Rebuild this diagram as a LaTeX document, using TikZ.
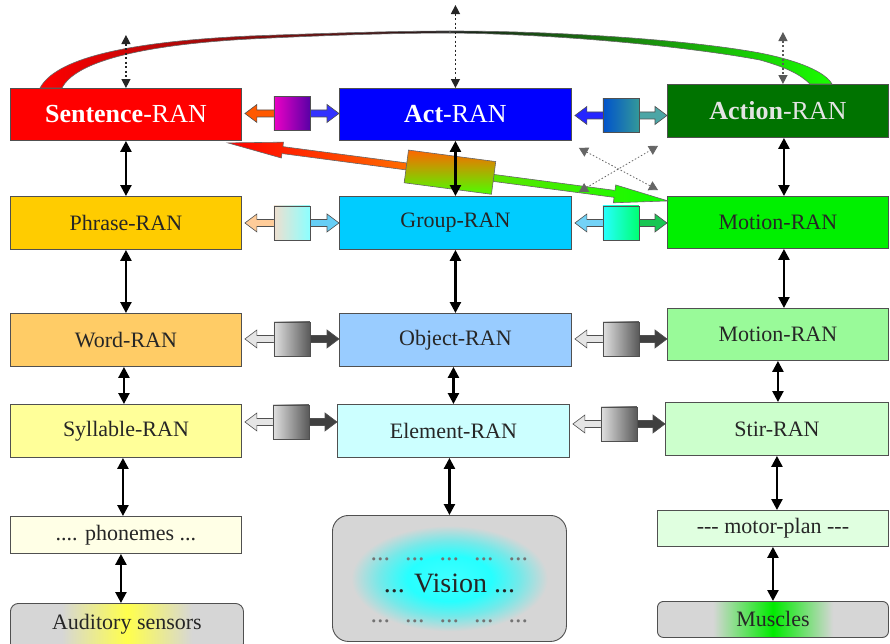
\documentclass[tikz,border=0pt]{standalone}
\usepackage{fontspec}
\setmainfont{Liberation Serif}
\usetikzlibrary{arrows.meta,calc}
\definecolor{cSent}{HTML}{FF0000}
\definecolor{cAct}{HTML}{0000FF}
\definecolor{cAction}{HTML}{007300}
\definecolor{cPhrase}{HTML}{FFCC00}
\definecolor{cGroup}{HTML}{00CCFF}
\definecolor{cMotion}{HTML}{00F000}
\definecolor{cWord}{HTML}{FFCC66}
\definecolor{cObject}{HTML}{99CCFF}
\definecolor{cMotionB}{HTML}{99FA99}
\definecolor{cSyll}{HTML}{FFFF99}
\definecolor{cElem}{HTML}{CCFFFF}
\definecolor{cStir}{HTML}{CCFFCC}
\definecolor{cPhon}{HTML}{FFFFE6}
\definecolor{cMotor}{HTML}{E0FFE0}
\definecolor{cGray}{HTML}{D6D6D6}
\definecolor{cEdge}{HTML}{505050}
\definecolor{cActText}{HTML}{E4E4E4}
\pgfdeclareradialshading{visionglow}{\pgfpoint{0bp}{0bp}}{color(0bp)=(cyan!75!white); color(9bp)=(cyan!85!white); color(15bp)=(cyan!45!cGray); color(21bp)=(cGray); color(50bp)=(cGray)}
\pgfdeclarehorizontalshading{audglow}{100bp}{color(0bp)=(cGray); color(36bp)=(cGray); color(50bp)=(yellow!70!white); color(64bp)=(cGray); color(100bp)=(cGray)}
\pgfdeclarehorizontalshading{musglow}{100bp}{color(0bp)=(cGray); color(37bp)=(cGray); color(50bp)=(green!92!black); color(63bp)=(cGray); color(100bp)=(cGray)}
\newcommand\blockconn[7]{%
  \coordinate (bcL) at ($(#1.east)+(3,#7)$);
  \coordinate (bcR) at (bcL -| #2.west);
  \coordinate (bcM) at ($(bcL)!0.5!(bcR)$);
  \filldraw[barrow, fill=#3] (bcL) -- ($(bcL)+(12,-9)$) -- ($(bcL)+(12,-3.5)$) -- ($(bcM)+(-17,-3.5)$) -- ($(bcM)+(-17,3.5)$) -- ($(bcL)+(12,3.5)$) -- ($(bcL)+(12,9)$) -- cycle;
  \filldraw[barrow, fill=#4] (bcR) -- ($(bcR)+(-12,-9)$) -- ($(bcR)+(-12,-3.5)$) -- ($(bcM)+(17,-3.5)$) -- ($(bcM)+(17,3.5)$) -- ($(bcR)+(-12,3.5)$) -- ($(bcR)+(-12,9)$) -- cycle;
  \shade[left color=#5, right color=#6] ($(bcM)+(-18,-17)$) rectangle ($(bcM)+(18,17)$);
  \draw[barrow] ($(bcM)+(-18,-17)$) rectangle ($(bcM)+(18,17)$);
}
\begin{document}
\begin{tikzpicture}[x=1pt,y=-1pt,
  ran/.style={draw=cEdge, line width=0.9pt, inner sep=0pt, anchor=north west, font=\fontsize{22}{24}\selectfont, text=black!85},
  toprow/.style={ran, font=\fontsize{26}{28}\selectfont, text=white},
  vconn/.style={{Triangle[width=11pt,length=11pt]}-{Triangle[width=11pt,length=11pt]}, line width=2.4pt, black},
  dconn/.style={{Triangle[width=9pt,length=9pt]}-{Triangle[width=9pt,length=9pt]}, line width=1.3pt, dash pattern=on 2pt off 2.5pt, black!85},
  xconn/.style={{Triangle[width=10pt,length=9pt]}-{Triangle[width=10pt,length=9pt]}, line width=0.8pt, dash pattern=on 1.5pt off 2pt, black!60},
  barrow/.style={draw=cEdge, line width=0.6pt},
  bigarrow/.style={draw=black!60, line width=0.6pt},
]
\fill[white] (0,0) rectangle (890,643);
\clip (0,0) rectangle (890,643);

% boxes
\node[toprow, fill=cSent, minimum width=231pt, minimum height=52pt] (sent) at (10,88) {{\bfseries Sentence}-RAN};
\node[toprow, fill=cAct, minimum width=232pt, minimum height=52pt] (act) at (339,88) {{\bfseries Act}-RAN};
\node[toprow, fill=cAction, text=cActText, minimum width=221pt, minimum height=53pt] (action) at (667,84) {{\bfseries Action}-RAN};
\node[ran, fill=cPhrase, minimum width=231pt, minimum height=53pt] (phrase) at (10,196) {Phrase-RAN};
\node[ran, fill=cGroup, minimum width=232pt, minimum height=53pt] (group) at (339,196) {Group-RAN};
\node[ran, fill=cMotion, minimum width=221pt, minimum height=52pt] (motion) at (667,196) {Motion-RAN};
\node[ran, fill=cWord, minimum width=231pt, minimum height=53pt] (word) at (10,313) {Word-RAN};
\node[ran, fill=cObject, minimum width=232pt, minimum height=53pt] (object) at (339,313) {Object-RAN};
\node[ran, fill=cMotionB, minimum width=221pt, minimum height=52pt] (motionb) at (667,308) {Motion-RAN};
\node[ran, fill=cSyll, minimum width=231pt, minimum height=53pt] (syll) at (10,404) {Syllable-RAN};
\node[ran, fill=cElem, minimum width=232pt, minimum height=53pt] (elem) at (337,404) {Element-RAN};
\node[ran, fill=cStir, minimum width=223pt, minimum height=53pt] (stir) at (665,402) {Stir-RAN};
\node[ran, fill=cPhon, minimum width=231pt, minimum height=37pt] (phon) at (10,516) {.... phonemes ...};
\node[ran, fill=cMotor, minimum width=231pt, minimum height=36pt] (motor) at (657,510) {-{}-{}- motor-plan -{}-{}-};
\node[ran, rounded corners=16pt, shading=visionglow, minimum width=234pt, minimum height=126pt] (vision) at (332,515) {};
\node[ran, rounded corners=8pt, shading=audglow, minimum width=233pt, minimum height=48pt] (aud) at (10,603) {};
\node[font=\fontsize{22}{24}\selectfont, text=black!85] (audtext) at ($(aud.north)+(0,21)$) {Auditory sensors};
\node[ran, rounded corners=6pt, shading=musglow, minimum width=231pt, minimum height=36pt] (muscles) at (657,601) {Muscles};
\node[anchor=base, font=\fontsize{26}{28}\selectfont, text=black!55] (vtop) at ($(vision.center)+(0,-18)$) {...\hspace{15pt}...\hspace{15pt}...\hspace{15pt}...\hspace{15pt}...};
\node[anchor=base, font=\fontsize{28}{30}\selectfont, text=black!85] (vmid) at ($(vision.center)+(0,14)$) {... Vision ...};
\node[anchor=base, font=\fontsize{26}{28}\selectfont, text=black!55] (vbot) at ($(vision.center)+(0,44)$) {...\hspace{15pt}...\hspace{15pt}...\hspace{15pt}...\hspace{15pt}...};

% big curved arrow between Sentence-RAN and Action-RAN
\shadedraw[bigarrow, left color=red, middle color=red!55!black, right color=black!90]
  (40,88) .. controls (55,60) and (120,42) .. (250,36) .. controls (330,33) and (400,31) .. (450,31)
  -- (450,33) .. controls (400,33) and (330,35) .. (250,39) .. controls (140,45) and (75,62) .. (62,88) -- cycle;
\shadedraw[bigarrow, left color=black!90, middle color=green!40!black, right color=green!90!yellow]
  (450,31) .. controls (560,31) and (690,40) .. (760,53) .. controls (800,61) and (825,72) .. (832,84)
  -- (810,84) .. controls (800,74) and (785,67) .. (760,60) .. controls (690,47) and (560,34) .. (450,33) -- cycle;

% big diagonal arrow Sentence-RAN <-> Motion-RAN
\coordinate (dA) at ($(sent.south east)+(-14,2)$);
\coordinate (dB) at ($(motion.north west)+(0,4)$);
\begin{scope}[shift={(dA)}, rotate=-7.51]
  \shadedraw[bigarrow, left color=red, right color=orange!85!red]
    (0,0) -- (55,-8) -- (55,-3.5) -- (180,-3.5) -- (180,3.5) -- (55,3.5) -- (55,8) -- cycle;
  \shadedraw[bigarrow, left color=green!60!yellow!90!black, right color=green!95!yellow]
    (268,-3.5) -- (390,-3.5) -- (390,-9) -- (444,0) -- (390,9) -- (390,3.5) -- (268,3.5) -- cycle;
  \shadedraw[bigarrow, top color=orange!80!red, bottom color=green!70!yellow] (180,-16.5) rectangle (268,16.5);
\end{scope}

% block connectors
\blockconn{sent}{act}{orange!70!red}{blue!80!white}{magenta!70!purple}{violet!70!blue}{-1}
\blockconn{act}{action}{blue!85!white}{teal!70!white}{blue!60!cyan!80!black}{teal!80!white}{1}
\blockconn{phrase}{group}{orange!40!white}{cyan!60!white}{brown!25!white}{cyan!45!white}{0}
\blockconn{group}{motion}{cyan!55!white}{green!50!teal!90!white}{cyan!85!white}{green!55!cyan}{0}
\blockconn{word}{object}{black!10}{black!75}{black!12}{black!65}{-1}
\blockconn{syll}{elem}{black!10}{black!75}{black!12}{black!65}{-9}
\blockconn{object}{motionb}{black!10}{black!75}{black!12}{black!65}{-1}
\blockconn{elem}{stir}{black!10}{black!75}{black!12}{black!65}{-7}

% vertical connectors
\coordinate (w1) at ($(word.south)+(-2,0)$);
\coordinate (s1) at ($(syll.south)+(-3,0)$);
\coordinate (p1) at ($(phon.south)+(-5,0)$);
\coordinate (o1) at ($(object.south)+(-2,0)$);
\coordinate (ac1) at ($(action.south)+(6,0)$);
\coordinate (mo1) at ($(motion.south)+(6,0)$);
\draw[vconn] (sent.south) -- (phrase.north);
\draw[vconn] (phrase.south) -- (word.north);
\draw[vconn] (w1) -- (w1 |- syll.north);
\draw[vconn] (s1) -- (s1 |- phon.north);
\draw[vconn] (p1) -- (p1 |- aud.north);
\draw[vconn] (act.south) -- (group.north);
\draw[vconn] (group.south) -- (object.north);
\draw[vconn] (o1) -- (o1 |- elem.north);
\draw[vconn] (vision.north |- elem.south) -- (vision.north);
\draw[vconn] (ac1) -- (ac1 |- motion.north);
\draw[vconn] (mo1) -- (mo1 |- motionb.north);
\draw[vconn] (motionb.south) -- (motionb.south |- stir.north);
\draw[vconn] (stir.south) -- (stir.south |- motor.north);
\draw[vconn] (motor.south) -- (muscles.north);

% dotted connectors
\coordinate (tl) at ($(sent.north)+(0,-53)$);
\coordinate (tm) at ($(act.north)+(0,-83)$);
\coordinate (tr) at ($(action.north)+(5,-52)$);
\coordinate (trb) at ($(action.north)+(5,0)$);
\coordinate (x1a) at ($(act.south east)+(7,7)$);
\coordinate (x1b) at ($(motion.north west)+(-9,-6)$);
\coordinate (x2a) at ($(group.north east)+(7,-4)$);
\coordinate (x2b) at ($(action.south west)+(-9,8)$);
\draw[dconn] (tl) -- (sent.north);
\draw[dconn] (tm) -- (act.north);
\draw[dconn, black!65] (tr) -- (trb);
\draw[xconn] (x1a) -- (x1b);
\draw[xconn] (x2a) -- (x2b);
\end{tikzpicture}
\end{document}
